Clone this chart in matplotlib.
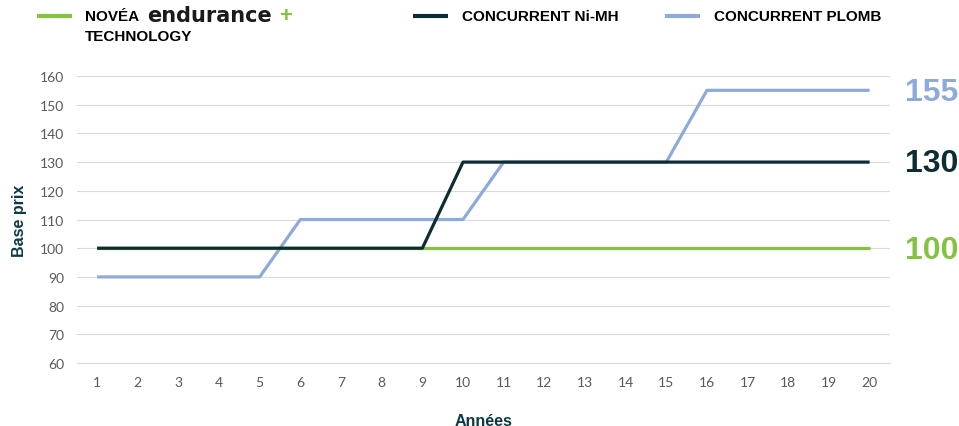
import numpy as np
from matplotlib import pyplot as plt
from matplotlib.lines import Line2D

# Data
years = list(range(1, 21))
novea = [100] * 20
nimh = [100] * 9 + [130] * 11
plomb = [90] * 5 + [110] * 5 + [130] * 5 + [155] * 5
yticks = list(range(60, 161, 10))

GREEN = "#84c341"
DARK = "#0e2c33"
BLUE = "#8eaadb"
TEAL = "#0d3946"
GREY = "#595959"

plt.rcParams["font.family"] = ["Liberation Sans", "DejaVu Sans"]

fig = plt.figure(figsize=(9.59, 4.27), dpi=100)
ax = fig.add_axes([0.080, 0.1475, 0.848, 0.6722])

x = np.arange(len(years))
ax.plot(x, novea, color=GREEN, lw=2.3, solid_capstyle="butt", zorder=3)
ax.plot(x, plomb, color=BLUE, lw=2.3, solid_capstyle="butt", zorder=4)
ax.plot(x, nimh, color=DARK, lw=2.3, solid_capstyle="butt", zorder=5)

ax.set_xlim(-0.5, len(years) - 0.5)
ax.set_ylim(60, 160)
ax.set_xticks(x)
ax.set_xticklabels([str(y) for y in years])
ax.set_yticks(yticks)
ax.grid(axis="y", color="#d9d9d9", lw=0.8, zorder=0)
ax.tick_params(length=0, labelsize=10, labelcolor=GREY, pad=9)
for lab in ax.get_xticklabels() + ax.get_yticklabels():
    lab.set_family("Lato")
for side in ["top", "right", "left"]:
    ax.spines[side].set_visible(False)
ax.spines["bottom"].set_color("#d9d9d9")
ax.spines["bottom"].set_linewidth(0.8)

ax.set_xlabel("Années", fontsize=11.5, fontweight="bold", color=TEAL, labelpad=18)
ax.set_ylabel("Base prix", fontsize=11.5, fontweight="bold", color=TEAL, labelpad=9)

# End value labels
for val, col in [(plomb[-1], BLUE), (nimh[-1], DARK), (novea[-1], GREEN)]:
    ax.annotate(str(val), xy=(0.944, val), xycoords=("figure fraction", "data"),
                xytext=(0, -1), textcoords="offset points",
                fontsize=23, fontweight="bold", color=col, va="center", ha="left")

# Legend drawn by hand
def leg_line(x0, color):
    fig.add_artist(Line2D([x0 / 959, (x0 + 35) / 959], [1 - 17 / 427] * 2,
                          color=color, lw=3, solid_capstyle="butt"))

leg_line(37, GREEN)
fig.text(85 / 959, 1 - 17 / 427, "NOVÉA", fontsize=11, fontweight="bold", va="center")
fig.text(147 / 959, 1 - 16 / 427, "endurance", fontsize=15, fontweight="bold",
         family="DejaVu Sans", color="#1a1a1a", va="center")
fig.text(279 / 959, 1 - 16 / 427, "+", fontsize=16, fontweight="bold", color=GREEN, va="center")
fig.text(85 / 959, 1 - 37 / 427, "TECHNOLOGY", fontsize=11, fontweight="bold", va="center")

leg_line(413, DARK)
fig.text(462 / 959, 1 - 17 / 427, "CONCURRENT Ni-MH", fontsize=11, fontweight="bold", va="center")
leg_line(665, BLUE)
fig.text(714 / 959, 1 - 17 / 427, "CONCURRENT PLOMB", fontsize=11, fontweight="bold", va="center")

plt.savefig("out.png", dpi=100)
plt.close()
